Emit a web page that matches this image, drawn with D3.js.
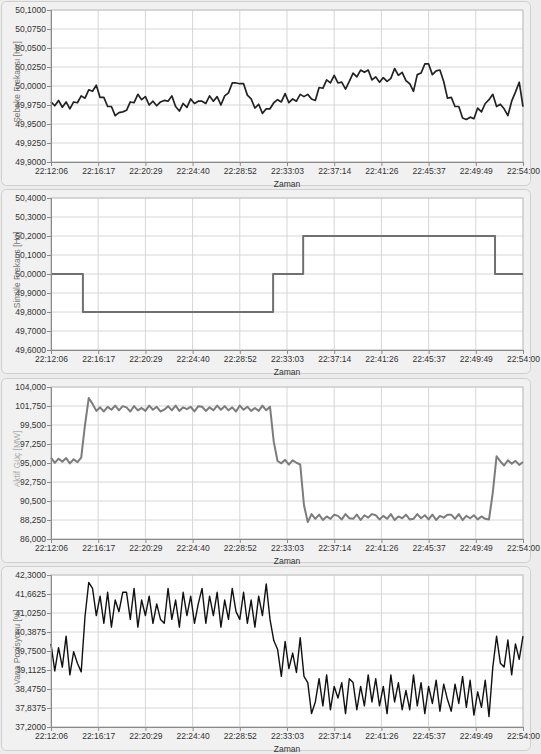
<!DOCTYPE html>
<html>
<head>
<meta charset="utf-8">
<script src="https://cdn.jsdelivr.net/npm/d3@7"></script>
<style>
  body { margin: 0; background: #ececec; }
  svg { display: block; font-family: "Liberation Sans", Arial, sans-serif; }
  .tick text { font-size: 8.5px; fill: #333; }
  .domain { stroke: #8a8a8a; }
  .tick line { stroke: #8a8a8a; }
</style>
</head>
<body>
<script>
// x axis labels (22:12:06 -> 22:54:00, 2514 s)
var xLabels = ['22:12:06', '22:16:17', '22:20:29', '22:24:40', '22:28:52', '22:33:03',
    '22:37:14', '22:41:26', '22:45:37', '22:49:49', '22:54:00']
var duration = 2514

// panel 1: grid frequency, one sample every ~20 s
var gridFreq = [
    49.979, 49.974, 49.981, 49.972, 49.979, 49.970, 49.979, 49.978, 49.987, 49.984,
    49.995, 49.993, 50.001, 49.985, 49.985, 49.973, 49.973, 49.961, 49.965, 49.966,
    49.968, 49.979, 49.978, 49.989, 49.982, 49.986, 49.975, 49.980, 49.974, 49.979,
    49.981, 49.980, 49.987, 49.973, 49.967, 49.977, 49.972, 49.983, 49.977, 49.980,
    49.980, 49.977, 49.987, 49.980, 49.986, 49.975, 49.987, 49.991, 50.004, 50.004,
    50.003, 50.003, 49.988, 49.983, 49.971, 49.976, 49.964, 49.970, 49.970, 49.978,
    49.982, 49.979, 49.990, 49.978, 49.983, 49.980, 49.989, 49.986, 49.989, 49.983,
    49.981, 49.998, 49.997, 50.008, 50.004, 50.014, 50.004, 50.005, 49.996, 50.006,
    50.017, 50.012, 50.021, 50.018, 50.021, 50.008, 50.012, 50.005, 50.011, 50.006,
    50.010, 50.023, 50.014, 50.018, 50.007, 50.003, 49.993, 50.015, 50.017, 50.029,
    50.029, 50.015, 50.020, 50.021, 50.006, 49.984, 49.985, 49.973, 49.973, 49.958,
    49.956, 49.959, 49.957, 49.971, 49.966, 49.977, 49.982, 49.989, 49.973, 49.976,
    49.970, 49.961, 49.980, 49.992, 50.005, 49.973
]

// panel 2: simulated frequency steps (start s, Hz)
var simStepT = [0, 170, 1183, 1343, 2365, 2514]
var simStepV = [50.0, 49.8, 50.0, 50.2, 50.0, 50.0]

// panel 3: active power [MW]
var power = [
    95.65, 95.02, 95.51, 95.16, 95.58, 94.95, 95.44, 95.09, 95.65, 99.5,
    102.7, 102.0, 101.17, 101.59, 101.10, 101.66, 101.31, 101.80, 101.24, 101.73,
    101.59, 101.10, 101.73, 101.24, 101.52, 101.17, 101.80, 101.31, 101.66, 101.10,
    101.31, 101.73, 101.24, 101.80, 101.17, 101.59, 101.38, 101.66, 101.10, 101.73,
    101.66, 101.17, 101.59, 101.24, 101.80, 101.31, 101.73, 101.24, 101.59, 101.10,
    101.80, 101.31, 101.66, 101.17, 101.52, 101.17, 101.80, 101.24, 101.66, 97.5,
    95.24, 94.96, 95.38, 94.82, 95.31, 95.03, 94.82, 90.0, 88.0, 88.95,
    88.39, 88.88, 88.25, 88.67, 88.39, 88.88, 88.74, 88.32, 88.95, 88.46,
    88.39, 88.88, 88.25, 88.81, 88.53, 88.95, 88.81, 88.32, 88.74, 88.39,
    88.95, 88.25, 88.67, 88.46, 88.88, 88.32, 88.39, 88.95, 88.46, 88.81,
    88.32, 88.88, 88.25, 88.74, 88.53, 88.88, 88.88, 88.39, 88.95, 88.25,
    88.74, 88.46, 88.81, 88.32, 88.67, 88.39, 88.32, 91.5, 95.8, 95.19,
    94.70, 95.33, 94.91, 95.26, 94.77, 95.12
]

// panel 4: valve position [%]
var valve = [
    39.99, 39.08, 39.86, 39.21, 40.25, 38.95, 39.73, 39.34, 39.05, 40.9,
    42.05, 41.85, 40.94, 41.59, 40.68, 41.72, 40.55, 41.46, 41.07, 41.72,
    41.72, 40.81, 41.85, 40.55, 41.46, 40.94, 41.59, 40.68, 41.33, 40.81,
    40.68, 41.85, 40.81, 41.46, 40.55, 41.72, 40.94, 41.59, 40.68, 41.33,
    41.85, 40.68, 41.59, 40.94, 41.72, 40.55, 41.46, 40.81, 41.85, 41.07,
    40.81, 41.72, 40.68, 41.46, 40.55, 41.59, 40.94, 42.0, 40.81, 40.1,
    39.81, 38.90, 40.07, 39.16, 39.68, 39.03, 40.2, 38.9, 38.69, 37.65,
    38.04, 38.82, 37.91, 38.95, 37.78, 38.56, 38.17, 38.69, 37.65, 38.82,
    38.69, 37.78, 38.56, 37.91, 38.95, 38.04, 38.82, 37.91, 38.56, 37.65,
    38.95, 38.04, 38.69, 37.78, 38.43, 37.78, 38.95, 37.91, 38.69, 37.65,
    38.56, 37.99, 38.77, 37.73, 38.64, 38.12, 37.73, 38.64, 37.99, 38.9,
    37.86, 38.77, 37.6, 38.38, 37.86, 38.77, 37.55, 39.2, 40.25, 39.34,
    39.21, 40.12, 38.95, 39.99, 39.47, 40.25
]

// y tick values per panel
var freqTicks = [49.9, 49.925, 49.95, 49.975, 50.0, 50.025, 50.05, 50.075, 50.1]
var simTicks = [49.6, 49.7, 49.8, 49.9, 50.0, 50.1, 50.2, 50.3, 50.4]
var powerTicks = [86, 88.25, 90.5, 92.75, 95, 97.25, 99.5, 101.75, 104]
var valveTicks = [37.2, 37.8375, 38.475, 39.1125, 39.75, 40.3875, 41.025, 41.6625, 42.3]

var trLocale = d3.formatLocale({ decimal: ',', thousands: '.', grouping: [3], currency: ['', ''] })

var W = 541, H = 754
var left = 51, right = 523
var panelTops = [0, 188, 377, 565]
var plotTop = 10, plotH = 152

function sampled(vals) {
    var step = duration / (vals.length - 1)
    return vals.map((v, i) => ({ t: i * step, v: v }))
}
var simData = simStepT.map((t, i) => ({ t: t, v: simStepV[i] }))

var panels = [
    { label: 'Şebeke Frekansı [Hz]', labelColor: '#777', data: sampled(gridFreq), ticks: freqTicks, fmt: '.4f', color: '#222', width: 1.7, curve: d3.curveLinear },
    { label: 'Simüle Frekans [Hz]', labelColor: '#777', data: simData, ticks: simTicks, fmt: '.4f', color: '#707070', width: 2, curve: d3.curveStepAfter },
    { label: 'Aktif Güç [MW]', labelColor: '#aaa', data: sampled(power), ticks: powerTicks, fmt: '.3f', color: '#7c7c7c', width: 2, curve: d3.curveLinear },
    { label: 'Vana Pozisyonu [%]', labelColor: '#777', data: sampled(valve), ticks: valveTicks, fmt: '.4f', color: '#111', width: 1.4, curve: d3.curveLinear }
]

var svg = d3.select('body').append('svg')
    .attr('width', W)
    .attr('height', H)

var x = d3.scaleLinear().domain([0, duration]).range([left, right])
var xTicks = d3.range(11).map(i => i * duration / 10)

panels.forEach((p, k) => {
    var top = panelTops[k]
    var g = svg.append('g').attr('transform', 'translate(0,' + top + ')')

    // panel frame
    g.append('rect')
        .attr('x', 1.5).attr('y', 1.5)
        .attr('width', 529).attr('height', 184)
        .attr('rx', 5)
        .attr('fill', '#f1f1f1')
        .attr('stroke', '#cfcfcf')

    var y = d3.scaleLinear()
        .domain([p.ticks[0], p.ticks[p.ticks.length - 1]])
        .range([plotTop + plotH, plotTop])

    // plot area
    g.append('rect')
        .attr('x', left).attr('y', plotTop)
        .attr('width', right - left).attr('height', plotH)
        .attr('fill', '#fff')

    // grid
    g.append('g').selectAll('line.v')
        .data(xTicks).enter().append('line')
        .attr('x1', d => x(d)).attr('x2', d => x(d))
        .attr('y1', plotTop).attr('y2', plotTop + plotH)
        .attr('stroke', '#d6d6d6')
    g.append('g').selectAll('line.h')
        .data(p.ticks).enter().append('line')
        .attr('x1', left).attr('x2', right)
        .attr('y1', d => y(d)).attr('y2', d => y(d))
        .attr('stroke', '#d6d6d6')

    g.append('rect')
        .attr('x', left).attr('y', plotTop)
        .attr('width', right - left).attr('height', plotH)
        .attr('fill', 'none')
        .attr('stroke', '#c4c4c4')

    // series
    var line = d3.line()
        .x(d => x(d.t))
        .y(d => y(d.v))
        .curve(p.curve)
    g.append('path')
        .datum(p.data)
        .attr('d', line)
        .attr('fill', 'none')
        .attr('stroke', p.color)
        .attr('stroke-width', p.width)
        .attr('stroke-linejoin', 'round')

    // axes
    g.append('g')
        .attr('transform', 'translate(0,' + (plotTop + plotH) + ')')
        .call(d3.axisBottom(x).tickValues(xTicks).tickFormat((d, i) => xLabels[i]).tickSize(4).tickPadding(2))

    g.append('g')
        .attr('transform', 'translate(' + left + ',0)')
        .call(d3.axisLeft(y).tickValues(p.ticks).tickFormat(trLocale.format(p.fmt)).tickSize(4).tickPadding(1))

    g.append('text')
        .attr('x', (left + right) / 2)
        .attr('y', plotTop + plotH + 25)
        .attr('text-anchor', 'middle')
        .attr('font-size', '8.5px')
        .attr('fill', '#333')
        .text('Zaman')

    g.append('text')
        .attr('transform', 'translate(20,' + (plotTop + plotH / 2 - 4) + ') rotate(-90)')
        .attr('text-anchor', 'middle')
        .attr('font-size', '8.5px')
        .attr('fill', p.labelColor)
        .text(p.label)
})
</script>
</body>
</html>
